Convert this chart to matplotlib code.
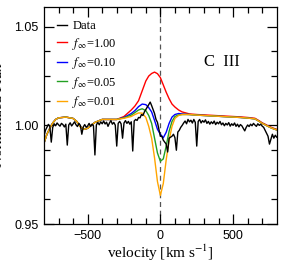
import matplotlib
matplotlib.use("Agg")
import matplotlib.pyplot as plt
import numpy as np

# ---------------- data ----------------
data_v = list(range(-800, 801, 10))
data_flux = [
    0.9945, 0.9975, 0.9990, 1.0005, 0.9995, 0.9915, 0.9990, 1.0008, 0.9998, 1.0012,  # -800..-710
    1.0003, 0.9996, 1.0010, 1.0004, 0.9992, 1.0006, 0.9900, 1.0002, 1.0013, 0.9997,  # -700..-610
    1.0008, 1.0018, 1.0003, 0.9994, 1.0010, 1.0000, 0.9955, 0.9992, 1.0004, 0.9990,  # -600..-510
    0.9997, 1.0010, 0.9995, 1.0006, 0.9998, 0.9850, 1.0002, 1.0015, 1.0003, 1.0018,  # -500..-410
    1.0008, 1.0022, 1.0007, 1.0016, 0.9995, 1.0012, 1.0024, 1.0006, 1.0015, 1.0001,  # -400..-310
    0.9895, 1.0010, 1.0020, 1.0008, 0.9935, 1.0012, 1.0024, 1.0010, 1.0020, 1.0006,  # -300..-210
    1.0018, 0.9870, 1.0022, 1.0030, 1.0025, 1.0040, 1.0038, 1.0055, 1.0050, 1.0068,  # -200..-110
    1.0080, 1.0092, 1.0105, 1.0118, 1.0100, 1.0080, 1.0060, 1.0030, 1.0015, 0.9980,  # -100..-10
    0.9945, 0.9945, 0.9925, 0.9915, 0.9905, 0.9865, 0.9935, 0.9940, 0.9945, 0.9955,  # 0..90
    0.9938, 0.9874, 0.9966, 0.9975, 0.9990, 1.0000, 1.0012, 1.0022, 1.0008, 1.0030,  # 100..190
    1.0018, 1.0026, 1.0012, 1.0030, 1.0015, 0.9895, 1.0020, 1.0030, 1.0012, 1.0024,  # 200..290
    1.0016, 1.0028, 1.0010, 1.0020, 1.0006, 1.0018, 1.0009, 1.0022, 1.0004, 1.0016,  # 300..390
    1.0008, 1.0020, 1.0003, 1.0012, 0.9998, 1.0010, 1.0002, 1.0014, 0.9996, 1.0008,  # 400..490
    1.0000, 1.0012, 0.9995, 1.0006, 0.9992, 1.0004, 0.9998, 0.9985, 0.9972, 0.9990,  # 500..590
    1.0002, 0.9994, 1.0006, 0.9998, 1.0010, 1.0002, 0.9995, 1.0008, 1.0000, 1.0006,  # 600..690
    0.9996, 0.9990, 0.9975, 0.9960, 0.9945, 0.9905, 0.9930, 0.9955, 0.9935, 0.9950,  # 700..790
    0.9940,                                                                          # 800
]

model_v = [-800, -780, -760, -740, -720, -700, -650, -600, -575, -550, -525, -500,
           -475, -450, -400, -350, -300, -250, -200, -175, -150, -125, -100, -80,
           -60, -40, -20, 0, 20, 40, 60, 80, 100, 125, 150, 200, 250, 300, 350,
           400, 450, 500, 550, 600, 650, 680, 700, 720, 740, 760, 780, 800]

left_common = [0.9910, 0.9955, 0.9985, 1.0012, 1.0030, 1.0038, 1.0042, 1.0035, 1.0020,
               0.9993, 0.9980, 0.9985, 1.0000, 1.0015, 1.0030, 1.0030, 1.0030]
right_common = [1.0052, 1.0050, 1.0048, 1.0046, 1.0044, 1.0042, 1.0040, 1.0037,
                1.0033, 1.0020, 1.0010, 1.0003, 0.9995, 0.9988, 0.9982, 0.9977]

core_f100 = [1.0045, 1.0078, 1.0098, 1.0125, 1.0175, 1.0225, 1.0250, 1.0263, 1.0270,
             1.0262, 1.0242, 1.0205, 1.0168, 1.0135, 1.0108, 1.0093, 1.0078, 1.0068, 1.0058]
core_f010 = [1.0040, 1.0060, 1.0075, 1.0095, 1.0108, 1.0105, 1.0090, 1.0068, 1.0025,
             0.9980, 0.9955, 0.9937, 0.9965, 1.0010, 1.0042, 1.0055, 1.0060, 1.0058, 1.0055]
core_f005 = [1.0038, 1.0052, 1.0065, 1.0078, 1.0084, 1.0075, 1.0050, 1.0010, 0.9935,
             0.9860, 0.9818, 0.9830, 0.9895, 0.9970, 1.0020, 1.0045, 1.0053, 1.0055, 1.0055]
core_f001 = [1.0036, 1.0045, 1.0055, 1.0063, 1.0062, 1.0040, 0.9995, 0.9935, 0.9835,
             0.9715, 0.9645, 0.9705, 0.9825, 0.9925, 0.9995, 1.0035, 1.0050, 1.0055, 1.0055]

red_offset = 0.0003
flux_f100 = left_common + core_f100 + [f + red_offset for f in right_common]
flux_f010 = left_common + core_f010 + right_common
flux_f005 = left_common + core_f005 + right_common
flux_f001 = left_common + core_f001 + right_common

labels = ["Data", r"$f_\infty$=1.00", r"$f_\infty$=0.10", r"$f_\infty$=0.05", r"$f_\infty$=0.01"]
colors = ["black", "#ff0000", "#0000ff", "#22a022", "#ffa500"]
ion_label = "C  III"
xlabel = r"velocity [km s$^{-1}$]"
ylabel = "Normalized Flux"

# ---------------- figure ----------------
plt.rcParams["mathtext.fontset"] = "stix"
fig = plt.figure(figsize=(2.91, 2.64), dpi=100)
ax = fig.add_axes([0.1512, 0.1515, 0.7998, 0.822])

ax.axvline(0, color="#555555", lw=0.9, ls=(0, (4, 3)), zorder=1)
ax.plot(data_v, data_flux, color=colors[0], lw=1.0, label=labels[0], zorder=3)
for flux, c, lab in zip([flux_f100, flux_f010, flux_f005, flux_f001], colors[1:], labels[1:]):
    ax.plot(model_v, flux, color=c, lw=1.0, label=lab, zorder=2)

ax.set_xlim(-800, 800)
ax.set_ylim(0.95, 1.06)
ax.set_xticks([-500, 0, 500])
ax.set_xticklabels(["\u2212500", "0", "500"])
ax.set_xticks(np.arange(-700, 800, 100), minor=True)
ax.set_yticks([0.95, 1.00, 1.05])
ax.set_yticklabels(["0.95", "1.00", "1.05"])
ax.set_yticks(np.arange(0.95, 1.0601, 0.0125), minor=True)
ax.tick_params(which="both", direction="in", top=True, right=True, width=0.9,
               labelsize=9, pad=4)
ax.tick_params(which="major", length=7)
ax.tick_params(which="minor", length=4)
for lab in ax.get_xticklabels() + ax.get_yticklabels():
    lab.set_fontfamily("Liberation Sans")
for s in ax.spines.values():
    s.set_linewidth(0.9)

ax.set_xlabel(xlabel, family="Liberation Serif", fontsize=11, labelpad=1)
ax.set_ylabel(ylabel, family="Liberation Serif", fontsize=11)
ax.yaxis.set_label_coords(-0.168, 0.5)

ax.text(0.765, 0.748, ion_label, transform=ax.transAxes, family="Liberation Serif",
        fontsize=12, ha="center", va="center")

leg = ax.legend(loc="upper left", bbox_to_anchor=(0.055, 0.94), frameon=False,
                prop={"family": "Liberation Serif", "size": 9},
                handlelength=0.85, handletextpad=0.4, labelspacing=0.28,
                borderaxespad=0, borderpad=0)

fig.savefig("out.png", dpi=100)
